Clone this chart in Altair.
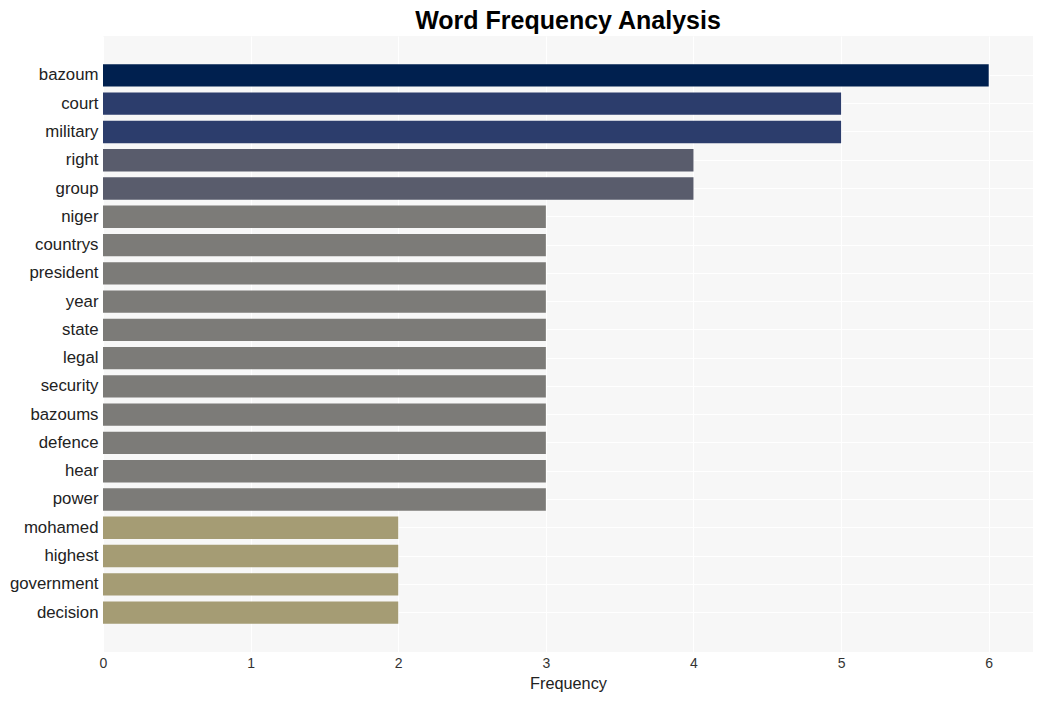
import altair as alt
import pandas as pd

words = ["bazoum", "court", "military", "right", "group", "niger", "countrys",
         "president", "year", "state", "legal", "security", "bazoums", "defence",
         "hear", "power", "mohamed", "highest", "government", "decision"]
counts = [6, 5, 5, 4, 4, 3, 3, 3, 3, 3, 3, 3, 3, 3, 3, 3, 2, 2, 2, 2]

color_values = [6, 5, 4, 3, 2]
color_range = ["#00204f", "#2c3d6c", "#595c6c", "#7c7b78", "#a59c74"]

df = pd.DataFrame({"word": words, "count": counts})

font = "Liberation Sans"

chart = alt.Chart(df).mark_bar().encode(
    y=alt.Y("word:N", sort=words, title=None,
            scale=alt.Scale(paddingInner=0.21, paddingOuter=1),
            axis=alt.Axis(labelFontSize=16.8, labelColor="#222222", labelFont=font,
                          ticks=False, domain=False, labelPadding=5,
                          grid=True, gridColor="#ffffff", gridWidth=1)),
    x=alt.X("count:Q", title="Frequency",
            scale=alt.Scale(domain=[0, 6.3], nice=False),
            axis=alt.Axis(values=[0, 1, 2, 3, 4, 5, 6], format="d", labelFlush=False,
                          labelFontSize=14, labelColor="#333333", labelFont=font,
                          titleFontSize=16.3, titleFont=font, titleFontWeight="normal",
                          titleColor="#222222", titlePadding=5,
                          ticks=False, domain=False, labelPadding=4,
                          grid=True, gridColor="#ffffff", gridWidth=1)),
    color=alt.Color("count:O", legend=None,
                    scale=alt.Scale(domain=color_values, range=color_range)),
).properties(
    width=930, height=616,
    title=alt.TitleParams("Word Frequency Analysis", fontSize=25, font=font,
                          fontWeight="bold", color="#000000", anchor="middle", offset=2),
    padding={"left": 1, "top": 1, "right": 0, "bottom": 0},
).configure_view(fill="#f7f7f7", stroke=None)

chart.save("out.html", embed_options={"renderer": "svg", "actions": False})
